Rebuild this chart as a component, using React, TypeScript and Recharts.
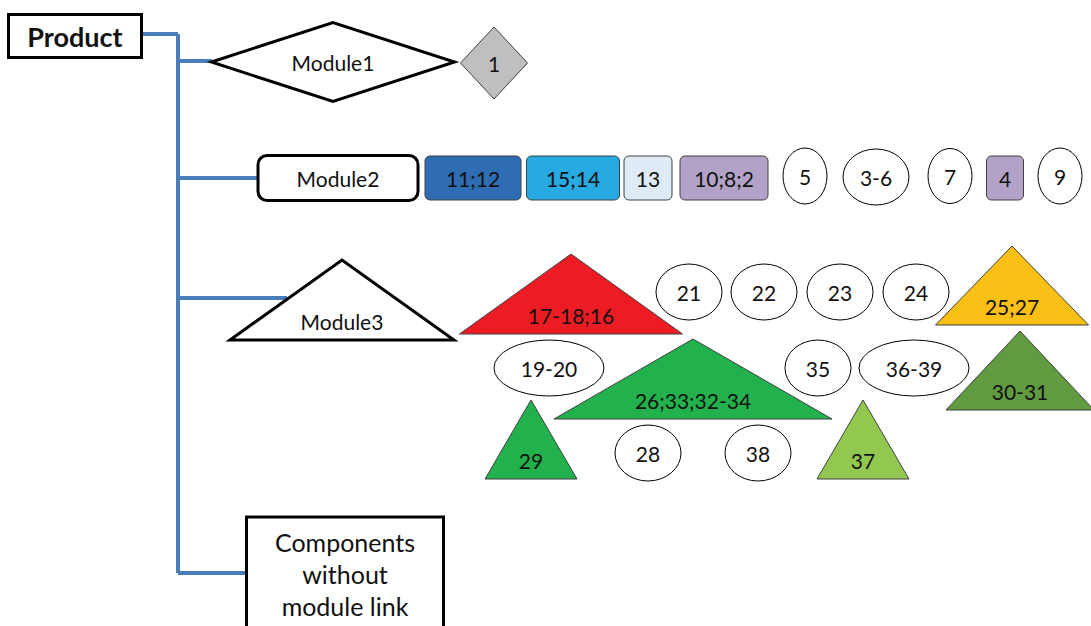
import { ReferenceLine, Scatter, ScatterChart, XAxis, YAxis } from "recharts";

const W = 1091;
const H = 626;

// diagram coordinates are in pixels of the original drawing (y grows downward)
type Node = { label: string; x: number; y: number; w: number; h: number; kind: string; fill?: string };

const rootNodes: Node[] = [
  { label: "Product", x: 75, y: 36, w: 133, h: 43, kind: "root" },
  { label: "Components\nwithout\nmodule link", x: 345, y: 580, w: 197, h: 126, kind: "box" },
];

const moduleNodes: Node[] = [
  { label: "Module1", x: 333, y: 62, w: 243, h: 79, kind: "diamond" },
  { label: "Module2", x: 338, y: 178, w: 160, h: 45, kind: "round" },
  { label: "Module3", x: 342, y: 340, w: 224, h: 80, kind: "triangle" },
];

const module1Parts: Node[] = [
  { label: "1", x: 494, y: 63, w: 67, h: 72, kind: "diamond", fill: "#BFBFBF" },
];

const module2Parts: Node[] = [
  { label: "11;12", x: 473, y: 178, w: 96, h: 44, kind: "rect", fill: "#2E6DB4" },
  { label: "15;14", x: 573, y: 178, w: 93, h: 44, kind: "rect", fill: "#27A9E1" },
  { label: "13", x: 648, y: 178, w: 48, h: 44, kind: "rect", fill: "#DEEBF7" },
  { label: "10;8;2", x: 724, y: 178, w: 88, h: 44, kind: "rect", fill: "#B3A2C7" },
  { label: "5", x: 805, y: 176, w: 44, h: 56, kind: "ellipse" },
  { label: "3-6", x: 876, y: 177, w: 66, h: 56, kind: "ellipse" },
  { label: "7", x: 950, y: 176, w: 44, h: 55, kind: "ellipse" },
  { label: "4", x: 1005, y: 178, w: 37, h: 44, kind: "rect", fill: "#B3A2C7" },
  { label: "9", x: 1060, y: 176, w: 44, h: 56, kind: "ellipse" },
];

const module3Triangles: Node[] = [
  { label: "17-18;16", x: 571, y: 334, w: 223, h: 80, kind: "triangle", fill: "#ED1C24" },
  { label: "25;27", x: 1012, y: 325, w: 153, h: 79, kind: "triangle", fill: "#FBC015" },
  { label: "26;33;32-34", x: 693, y: 419, w: 278, h: 80, kind: "triangle", fill: "#22B14C" },
  { label: "30-31", x: 1020, y: 410, w: 148, h: 79, kind: "triangle", fill: "#619B41" },
  { label: "29", x: 531, y: 479, w: 92, h: 79, kind: "triangle", fill: "#22B14C" },
  { label: "37", x: 863, y: 479, w: 92, h: 79, kind: "triangle", fill: "#92C850" },
];

const module3Ellipses: Node[] = [
  { label: "21", x: 689, y: 292, w: 66, h: 56, kind: "ellipse" },
  { label: "22", x: 764, y: 292, w: 66, h: 56, kind: "ellipse" },
  { label: "23", x: 840, y: 292, w: 66, h: 56, kind: "ellipse" },
  { label: "24", x: 916, y: 292, w: 66, h: 56, kind: "ellipse" },
  { label: "19-20", x: 549, y: 368, w: 110, h: 56, kind: "ellipse" },
  { label: "35", x: 818, y: 368, w: 66, h: 56, kind: "ellipse" },
  { label: "36-39", x: 914, y: 368, w: 110, h: 56, kind: "ellipse" },
  { label: "28", x: 648, y: 453, w: 66, h: 56, kind: "ellipse" },
  { label: "38", x: 758, y: 453, w: 66, h: 56, kind: "ellipse" },
];

const connectors = [
  [{ x: 141, y: 34 }, { x: 178, y: 34 }],
  [{ x: 178, y: 34 }, { x: 178, y: 573 }],
  [{ x: 178, y: 61 }, { x: 212, y: 61 }],
  [{ x: 178, y: 178 }, { x: 258, y: 178 }],
  [{ x: 178, y: 298 }, { x: 287, y: 298 }],
  [{ x: 178, y: 573 }, { x: 247, y: 573 }],
];

const FONT = "Lato, 'Open Sans', sans-serif";

// eslint-disable-next-line @typescript-eslint/no-explicit-any
function NodeShape({ cx, cy, payload }: any) {
  const n: Node = payload;
  const { w, h } = n;
  const isModule = moduleNodes.includes(n) || rootNodes.includes(n);
  const stroke = "#000";
  const sw = isModule ? 3 : 1;
  const fill = n.fill ?? "#fff";
  let shape = null;
  let ty = cy;
  if (n.kind === "diamond") {
    shape = (
      <polygon
        points={`${cx - w / 2},${cy} ${cx},${cy - h / 2} ${cx + w / 2},${cy} ${cx},${cy + h / 2}`}
        fill={fill}
        stroke={isModule ? stroke : "#404040"}
        strokeWidth={sw}
      />
    );
  } else if (n.kind === "triangle") {
    // y is the base line of the triangle
    shape = (
      <polygon
        points={`${cx - w / 2},${cy} ${cx},${cy - h} ${cx + w / 2},${cy}`}
        fill={fill}
        stroke={isModule ? stroke : "#404040"}
        strokeWidth={sw}
        strokeLinejoin="miter"
      />
    );
    ty = cy - 19;
  } else if (n.kind === "ellipse") {
    shape = <ellipse cx={cx} cy={cy} rx={w / 2} ry={h / 2} fill="#fff" stroke="#000" strokeWidth={1} />;
  } else {
    const r = n.kind === "round" ? 9 : n.kind === "rect" ? 5 : 0;
    shape = (
      <rect
        x={cx - w / 2}
        y={cy - h / 2}
        width={w}
        height={h}
        rx={r}
        fill={fill}
        stroke={n.kind === "rect" ? "#404040" : stroke}
        strokeWidth={n.kind === "rect" ? 1 : sw}
      />
    );
  }
  const lines = n.label.split("\n");
  const fontSize = n.kind === "root" ? 27 : n.kind === "box" ? 25 : 21;
  const lh = 32;
  const firstY = n.kind === "box" ? cy - 38 : ty - ((lines.length - 1) * lh) / 2;
  return (
    <g>
      {shape}
      <text
        x={cx}
        textAnchor="middle"
        fontFamily={FONT}
        fontSize={fontSize}
        fontWeight={n.kind === "root" ? 700 : 400}
        fill="#111"
      >
        {lines.map((line, i) => (
          <tspan key={i} x={cx} y={firstY + i * lh} dominantBaseline="central">
            {line}
          </tspan>
        ))}
      </text>
    </g>
  );
}

const groups = [rootNodes, moduleNodes, module1Parts, module2Parts, module3Triangles, module3Ellipses];

export default function App() {
  return (
    <div style={{ position: "fixed", left: 0, top: 0, width: W, height: H, background: "#fff" }}>
      <ScatterChart width={W} height={H} margin={{ top: 0, right: 0, bottom: 0, left: 0 }}>
        <XAxis type="number" dataKey="x" domain={[0, W]} hide />
        <YAxis type="number" dataKey="y" domain={[0, H]} reversed hide />
        {connectors.map((seg, i) => (
          <ReferenceLine
            key={i}
            segment={seg}
            stroke="#4A7EBB"
            strokeWidth={4}
            ifOverflow="visible"
          />
        ))}
        {groups.map((g, i) => (
          <Scatter
            key={i}
            data={g}
            shape={(p: unknown) => <NodeShape {...(p as object)} />}
            isAnimationActive={false}
          />
        ))}
      </ScatterChart>
    </div>
  );
}
